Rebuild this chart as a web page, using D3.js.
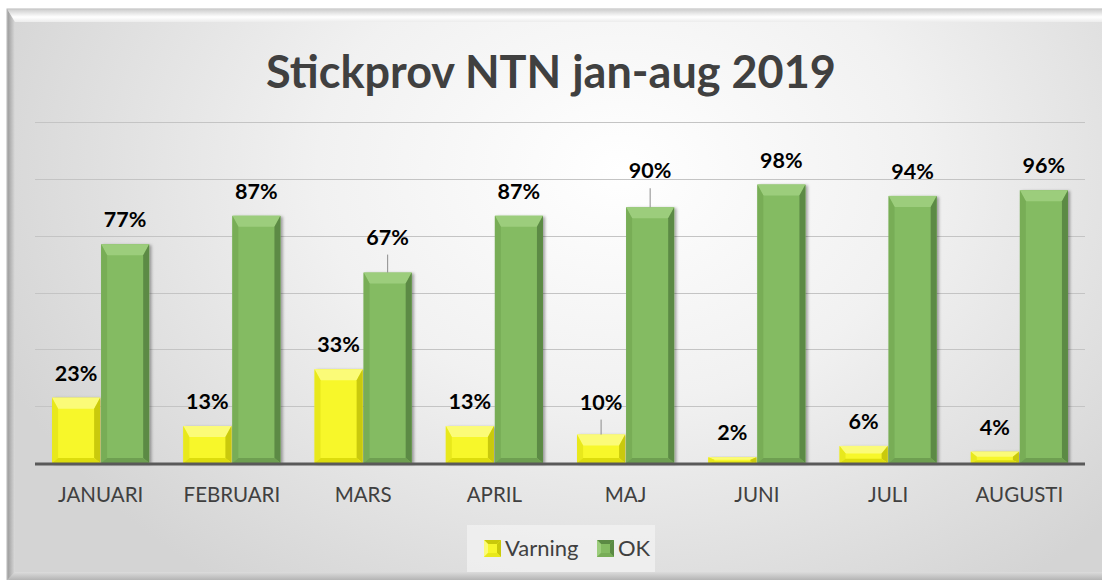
<!DOCTYPE html>
<html>
<head>
<meta charset="utf-8">
<script src="https://cdn.jsdelivr.net/npm/d3@7"></script>
<style>
  html, body { margin: 0; padding: 0; background: #fff; }
  svg { display: block; font-family: Lato, "Open Sans", sans-serif; }
</style>
</head>
<body>
<svg id="chart" width="1102" height="580"></svg>
<script>
// chart data
let months = ['JANUARI', 'FEBRUARI', 'MARS', 'APRIL', 'MAJ', 'JUNI', 'JULI', 'AUGUSTI'];
let varning = [0.23, 0.13, 0.33, 0.13, 0.10, 0.02, 0.06, 0.04];
let ok = [0.77, 0.87, 0.67, 0.87, 0.90, 0.98, 0.94, 0.96];
let seriesNames = ['Varning', 'OK'];
let yTicks = [0, 0.2, 0.4, 0.6, 0.8, 1.0, 1.2];
let title = 'Stickprov NTN jan-aug 2019';

let svg = d3.select('#chart');
let W = 1102, H = 580;
let plot = { left: 35, right: 1085, top: 122, bottom: 463 };

// colours per series: main face, top bevel, left, right, bottom
let palette = {
    Varning: { face: '#f7f72a', top: '#fbfb78', left: '#e8e81c', right: '#c9c90a', bottom: '#dcdc10' },
    OK:      { face: '#84bb62', top: '#9ccd7c', left: '#78ad57', right: '#5b8a44', bottom: '#6e9f51' },
};

let defs = svg.append('defs');

let bg = defs.append('radialGradient').attr('id', 'bg')
    .attr('gradientUnits', 'userSpaceOnUse')
    .attr('cx', 620).attr('cy', 170).attr('r', 640)
    .attr('gradientTransform', 'translate(620,170) scale(1.05,0.8) translate(-620,-170)');
bg.append('stop').attr('offset', 0).attr('stop-color', '#ffffff');
bg.append('stop').attr('offset', 0.45).attr('stop-color', '#f1f1f1');
bg.append('stop').attr('offset', 1).attr('stop-color', '#d4d4d4');

let leftEdge = defs.append('linearGradient').attr('id', 'leftEdge');
leftEdge.append('stop').attr('offset', 0).attr('stop-color', '#9c9c9c');
leftEdge.append('stop').attr('offset', 1).attr('stop-color', '#dadada');

let topEdge = defs.append('linearGradient').attr('id', 'topEdge')
    .attr('x1', 0).attr('y1', 0).attr('x2', 0).attr('y2', 1);
topEdge.append('stop').attr('offset', 0).attr('stop-color', '#cfcfcf');
topEdge.append('stop').attr('offset', 0.6).attr('stop-color', '#ffffff');
topEdge.append('stop').attr('offset', 1).attr('stop-color', '#ececec');

let bottomEdge = defs.append('linearGradient').attr('id', 'bottomEdge')
    .attr('x1', 0).attr('y1', 0).attr('x2', 0).attr('y2', 1);
bottomEdge.append('stop').attr('offset', 0).attr('stop-color', '#dcdcdc');
bottomEdge.append('stop').attr('offset', 1).attr('stop-color', '#b4b4b4');

let shadow = defs.append('filter').attr('id', 'shadow')
    .attr('x', '-20%').attr('y', '-20%').attr('width', '140%').attr('height', '140%');
shadow.append('feDropShadow').attr('dx', 2).attr('dy', 1).attr('stdDeviation', 1.5)
    .attr('flood-color', '#000').attr('flood-opacity', 0.35);

// frame and background
svg.append('rect').attr('x', 7).attr('y', 9).attr('width', W).attr('height', H)
    .attr('fill', 'url(#bg)').attr('stroke', '#b8b8b8').attr('stroke-width', 1);
svg.append('polygon')
    .attr('points', [[7.5, 9.5], [15, 22], [15, H - 8], [7.5, H]].join(' '))
    .attr('fill', 'url(#leftEdge)');
svg.append('polygon')
    .attr('points', [[7.5, 9.5], [W, 9.5], [W, 22], [15, 22]].join(' '))
    .attr('fill', 'url(#topEdge)');
svg.append('polygon')
    .attr('points', [[15, H - 8], [W, H - 8], [W, H], [7.5, H]].join(' '))
    .attr('fill', 'url(#bottomEdge)');

// scales
let x0 = d3.scaleBand().domain(months)
    .range([plot.left, plot.right])
    .paddingInner(0.26).paddingOuter(0.13);
let x1 = d3.scaleBand().domain(seriesNames)
    .range([0, x0.bandwidth()]).paddingInner(0.02);
let y = d3.scaleLinear().domain([0, 1.2]).range([plot.bottom, plot.top]);

// gridlines
svg.append('g').classed('grid', true)
    .selectAll('line')
    .data(yTicks.slice(1))
    .join('line')
        .attr('x1', plot.left).attr('x2', plot.right)
        .attr('y1', d => Math.round(y(d)) + 0.5).attr('y2', d => Math.round(y(d)) + 0.5)
        .attr('stroke', '#c4c4c4').attr('stroke-width', 1.2);

// title
svg.append('text')
    .attr('x', W / 2).attr('y', 88)
    .attr('text-anchor', 'middle')
    .attr('font-size', 45).attr('font-weight', 700)
    .attr('fill', '#404040')
    .text(title);

// one record per bar
let bars = [];
months.forEach(function (m, i) {
    bars.push({ month: m, series: 'Varning', value: varning[i] });
    bars.push({ month: m, series: 'OK', value: ok[i] });
});

/** beveled column like Excel's "angle" bevel */
let bevelPolys = function (x, yTop, w, h, tb, sb, bb) {
    let t = Math.min(tb, h * 0.45), s = Math.min(sb, w / 4), b = Math.min(bb, h * 0.25);
    let yb = yTop + h;
    return {
        top: [[x, yTop], [x + w, yTop], [x + w - s, yTop + t], [x + s, yTop + t]],
        left: [[x, yTop], [x + s, yTop + t], [x + s, yb - b], [x, yb]],
        right: [[x + w, yTop], [x + w, yb], [x + w - s, yb - b], [x + w - s, yTop + t]],
        bottom: [[x, yb], [x + s, yb - b], [x + w - s, yb - b], [x + w, yb]],
    };
};

let barG = svg.append('g').classed('bars', true)
    .selectAll('g')
    .data(bars)
    .join('g')
        .attr('filter', 'url(#shadow)');

barG.each(function (d) {
    let g = d3.select(this);
    let bx = x0(d.month) + x1(d.series);
    let bw = x1.bandwidth();
    let by = y(d.value);
    let bh = y(0) - by;
    let c = palette[d.series];
    g.append('rect').attr('x', bx).attr('y', by).attr('width', bw).attr('height', bh)
        .attr('fill', c.face);
    let p = bevelPolys(bx, by, bw, bh, 11, 6, 5);
    ['top', 'left', 'right', 'bottom'].forEach(function (k) {
        g.append('polygon').attr('points', p[k].join(' ')).attr('fill', c[k]);
    });
});

// baseline
svg.append('line')
    .attr('x1', plot.left).attr('x2', plot.right)
    .attr('y1', y(0) + 1).attr('y2', y(0) + 1)
    .attr('stroke', '#595959').attr('stroke-width', 3);

// data labels; some were dragged up in the original and have leader lines
let movedLabels = { 'MARS/OK': 11, 'MAJ/OK': 12, 'MAJ/Varning': 8 };
let labelGap = 17;

let labels = svg.append('g').classed('labels', true);
bars.forEach(function (d) {
    let cx = x0(d.month) + x1(d.series) + x1.bandwidth() / 2;
    let lift = movedLabels[d.month + '/' + d.series] || 0;
    let base = y(d.value) - labelGap - lift;
    labels.append('text')
        .attr('x', cx).attr('y', base)
        .attr('text-anchor', 'middle')
        .attr('font-size', 21.5).attr('font-weight', 700)
        .attr('fill', '#000')
        .text(d3.format('.0%')(d.value));
    if (lift) {
        labels.append('line')
            .attr('x1', cx).attr('x2', cx)
            .attr('y1', base + 10).attr('y2', y(d.value))
            .attr('stroke', '#8c8c8c').attr('stroke-width', 1);
    }
});

// category axis labels
svg.append('g').classed('xlabels', true)
    .selectAll('text')
    .data(months)
    .join('text')
        .attr('x', d => x0(d) + x0.bandwidth() / 2)
        .attr('y', 502)
        .attr('text-anchor', 'middle')
        .attr('font-size', 20.5)
        .attr('fill', '#404040')
        .text(d => d);

// legend
let legend = svg.append('g').classed('legend', true);
legend.append('rect').attr('x', 467).attr('y', 525).attr('width', 188).attr('height', 47)
    .attr('fill', '#f4f4f4').attr('opacity', 0.7);
let legendX = { Varning: 484, OK: 597 };
seriesNames.forEach(function (s) {
    let c = palette[s];
    let lx = legendX[s], ly = 540, sz = 17;
    let p = bevelPolys(lx, ly, sz, sz, 4, 4, 4);
    legend.append('rect').attr('x', lx).attr('y', ly).attr('width', sz).attr('height', sz)
        .attr('fill', c.face);
    legend.append('polygon').attr('points', p.top.join(' ')).attr('fill', c.right);
    legend.append('polygon').attr('points', p.left.join(' ')).attr('fill', c.top);
    legend.append('polygon').attr('points', p.right.join(' ')).attr('fill', c.right);
    legend.append('polygon').attr('points', p.bottom.join(' ')).attr('fill', c.left);
    legend.append('text')
        .attr('x', lx + sz + 4).attr('y', 556)
        .attr('font-size', 22)
        .attr('fill', '#404040')
        .text(s);
});
</script>
</body>
</html>
